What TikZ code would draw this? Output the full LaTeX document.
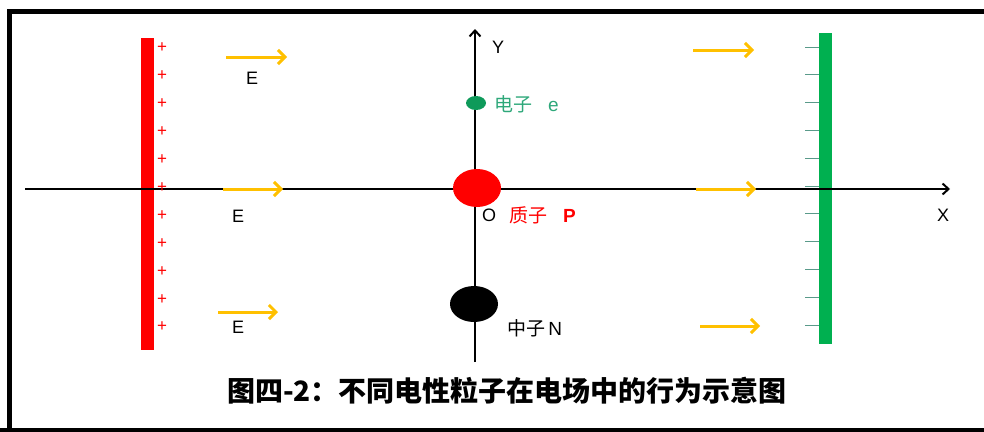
\documentclass[tikz,border=0pt]{standalone}
\usepackage{fontspec}
\setmainfont{Liberation Sans}
\newfontfamily\cjk{Noto Sans CJK SC}
\usetikzlibrary{arrows.meta,shapes.geometric}
\definecolor{fieldyel}{HTML}{FFC000}
\definecolor{plred}{HTML}{FF0000}
\definecolor{plgreen}{HTML}{00B050}
\definecolor{tickc}{HTML}{5A9A8A}
\definecolor{etxt}{HTML}{2EA87A}
\definecolor{edot}{HTML}{0E9A5A}
\begin{document}
\begin{tikzpicture}[x=1pt,y=-1pt,
  axis/.style={line width=2pt,-{Straight Barb[length=6pt,width=11pt,line width=2pt]}},
  field/.style={draw=fieldyel,line width=3pt,-{Straight Barb[length=7pt,width=14pt,line width=3pt]}},
  plate/.style={draw=none,inner sep=0pt,minimum width=13pt},
  lbl/.style={font=\fontsize{18}{18}\selectfont,inner sep=0pt},
  clbl/.style={font=\fontsize{19}{19}\selectfont,inner sep=0pt,anchor=west},
  plus/.style={text=plred,font=\fontsize{17}{17}\selectfont,inner sep=0pt},
  particle/.style={ellipse,inner sep=0pt,draw=none}]
\useasboundingbox (0,0) rectangle (984,431);
% frame
\draw[line width=5pt] (9.5,433) -- (9.5,11) -- (990,11);
\draw[line width=5pt] (0,430) -- (990,430);
% axes
\coordinate (xs) at (25,189);
\coordinate (xe) at (950,189);
\coordinate (ys) at (475,362);
\coordinate (ye) at (475,29);
% plates
\node[plate,fill=plred,minimum height=312pt] (rp) at (147.5,194) {};
\node[plate,fill=plgreen,minimum height=311pt] (gp) at (825.5,188.5) {};
\draw[axis] (xs) -- (xe);
\draw[axis] (ys) -- (ye);
\node[lbl] (ylab) at (498,47) {Y};
\node[lbl] (xlab) at (943,215) {X};
% plus signs and ticks
\foreach \i in {0,...,10}{
  \node[plus] (p\i) at (162,{48+27.9*\i}) {+};
  \draw[tickc,line width=1pt] ({805},{47+27.8*\i}) coordinate (t\i) -- ++(14,0);
}
% field arrows
\coordinate (a1s) at (226,57); \coordinate (a1e) at (287,57);
\coordinate (a2s) at (223,189); \coordinate (a2e) at (283,189);
\coordinate (a3s) at (218,312); \coordinate (a3e) at (278,312);
\coordinate (b1s) at (693,50); \coordinate (b1e) at (754,50);
\coordinate (b2s) at (696,189); \coordinate (b2e) at (756,189);
\coordinate (b3s) at (700,326); \coordinate (b3e) at (760,326);
\foreach \s/\e in {a1s/a1e,a2s/a2e,a3s/a3e,b1s/b1e,b2s/b2e,b3s/b3e}
  \draw[field] (\s) -- (\e);
\node[lbl] (e1) at (252,78) {E};
\node[lbl] (e2) at (238,216) {E};
\node[lbl] (e3) at (238,327) {E};
% particles
\node[particle,fill=edot,minimum width=20pt,minimum height=14pt] (el) at (476,103) {};
\node[particle,fill=plred,minimum width=48pt,minimum height=38pt] (pr) at (477,188) {};
\node[particle,fill=black,minimum width=48pt,minimum height=36pt] (ne) at (474,304) {};
\node[clbl,text=etxt] (elab) at (494,104) {{\cjk 电子}\ \ \ e};
\node[lbl] (olab) at (489,215) {O};
\node[clbl,text=plred] (plab) at (509,215) {{\cjk 质子}\ \ \ \textbf{P}};
\node[clbl] (nlab) at (507,328) {{\cjk 中子}\,N};
% caption
\node[inner sep=0pt,font=\fontsize{28}{28}\selectfont\cjk\bfseries] (cap) at (507,391) {图四-2：不同电性粒子在电场中的行为示意图};
\end{tikzpicture}
\end{document}
